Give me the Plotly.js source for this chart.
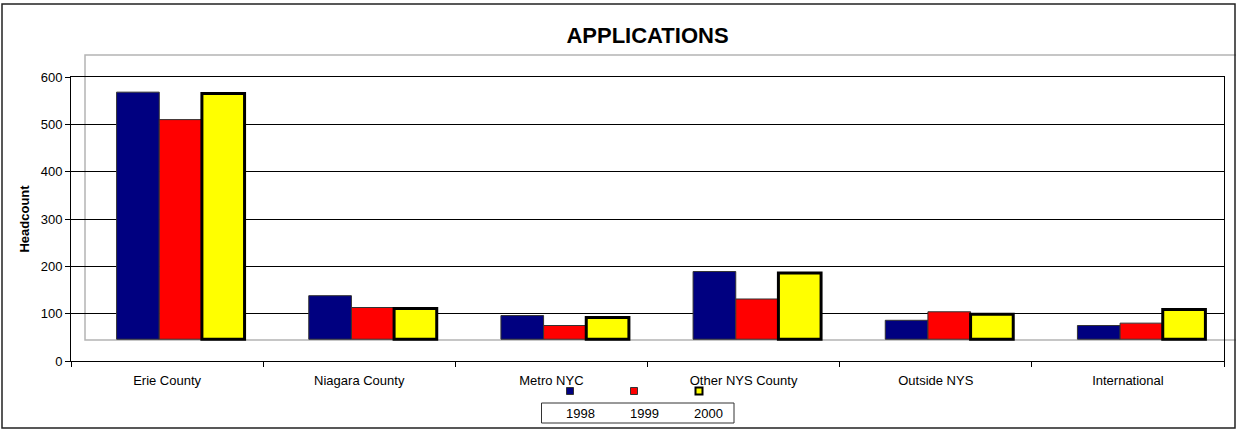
<!DOCTYPE html>
<html>
<head>
<meta charset="utf-8">
<script src="https://cdn.plot.ly/plotly-3.0.1.min.js"></script>
<style>html,body{margin:0;padding:0;background:#fff;}#chart{width:1236px;height:430px;}</style>
</head>
<body>
<div id="chart"></div>
<script>
// ---- data ----
const categories = ["Erie County", "Niagara County", "Metro NYC", "Other NYS County", "Outside NYS", "International"];
const seriesNames = ["1998", "1999", "2000"];
const values1998 = [568, 138, 96, 189, 86, 75];
const values1999 = [510, 113, 75, 131, 104, 80];
const values2000 = [565, 111, 92, 186, 99, 109];
const yTickVals = [0, 100, 200, 300, 400, 500, 600];

// ---- styles ----
const FONT = "Arial, 'Liberation Sans', sans-serif";
const colors = ["#000080", "#FF0000", "#FFFF00"];
const borderColors = ["#333333", "#333333", "#000000"];
const borderWidths = [1, 1, 3];
const floorBase = 46;          // the drawn "floor" of the columns
const W = 1236, H = 430;
const L = 71, R = 12, T = 77, B = 69;
const plotW = W - L - R, plotH = H - T - B;
const shiftPx = 13.5;          // depth shift of the columns
const catW = plotW / categories.length;
const dShift = shiftPx / catW;

function px(x) { return (x - L) / plotW; }
function py(y) { return (H - B - y) / plotH; }

const allVals = [values1998, values1999, values2000];
const traces = allVals.map((v, i) => ({
  type: "bar",
  name: seriesNames[i],
  x: categories,
  y: v.map(val => val - floorBase),
  base: floorBase,
  xaxis: "x2",
  marker: { color: colors[i], line: { color: borderColors[i], width: borderWidths[i] } },
  hoverinfo: "skip",
  showlegend: false
}));
// invisible carrier so the visible category axis knows its categories
traces.unshift({
  type: "scatter", mode: "markers", x: categories, y: categories.map(() => 0),
  marker: { opacity: 0 }, hoverinfo: "skip", showlegend: false, xaxis: "x", yaxis: "y"
});

const shapes = [
  // back wall (depth frame)
  { type: "rect", xref: "paper", yref: "paper", x0: px(85), x1: px(1240), y0: py(340), y1: py(55),
    line: { color: "#b4b4b4", width: 1.5 }, layer: "below" },
  // outer chart border
  { type: "rect", xref: "paper", yref: "paper", x0: px(2), x1: px(1235), y0: py(428), y1: py(4),
    line: { color: "#222222", width: 1.5 } },
  // legend box
  { type: "rect", xref: "paper", yref: "paper", x0: px(541.5), x1: px(734), y0: py(423), y1: py(403),
    line: { color: "#333333", width: 1 }, fillcolor: "#ffffff" }
];
const annotations = [];
const legMarkX = [570, 634, 699];
const legTextX = [580, 644, 708];
seriesNames.forEach((n, i) => {
  const s = 3.5;
  shapes.push({ type: "rect", xref: "paper", yref: "paper",
    x0: px(legMarkX[i] - s), x1: px(legMarkX[i] + s), y0: py(391 + s), y1: py(391 - s),
    fillcolor: colors[i], line: { color: borderColors[i], width: i === 2 ? 2 : 1 } });
  annotations.push({ xref: "paper", yref: "paper", x: px(legTextX[i]), y: py(413),
    text: n, showarrow: false, xanchor: "center", yanchor: "middle",
    font: { family: FONT, size: 13, color: "#000" } });
});

const layout = {
  width: W, height: H,
  margin: { l: L, r: R, t: T, b: B, pad: 0 },
  paper_bgcolor: "#fff", plot_bgcolor: "rgba(0,0,0,0)",
  font: { family: FONT, size: 13, color: "#000" },
  title: { text: "<b>APPLICATIONS</b>", font: { family: FONT, size: 22, color: "#000" },
    x: 0.5, xref: "paper", xanchor: "center", y: 1 - 35 / H, yanchor: "middle" },
  showlegend: false,
  barmode: "group", bargap: 0.334, bargroupgap: 0,
  xaxis: {
    type: "category", categoryorder: "array", categoryarray: categories,
    range: [-0.5, categories.length - 0.5],
    showline: true, linecolor: "#000", linewidth: 1, mirror: true,
    ticks: "outside", ticklen: 5, tickcolor: "#000", tickson: "boundaries",
    ticklabelstandoff: 7,
    showgrid: false, zeroline: false,
    tickfont: { family: FONT, size: 13, color: "#000" }
  },
  xaxis2: {
    type: "category", categoryorder: "array", categoryarray: categories, overlaying: "x",
    range: [-0.5 - dShift, categories.length - 0.5 - dShift],
    visible: false, showgrid: false, zeroline: false
  },
  yaxis: {
    range: [0, 600], tickvals: yTickVals, ticktext: yTickVals.map(String),
    showline: true, linecolor: "#000", linewidth: 1, mirror: true,
    ticks: "outside", ticklen: 5, tickcolor: "#000",
    showgrid: true, gridcolor: "#000", gridwidth: 1, zeroline: false,
    tickfont: { family: FONT, size: 13, color: "#000" },
    title: { text: "<b>Headcount</b>", font: { family: FONT, size: 13, color: "#000" }, standoff: 8 }
  },
  shapes: shapes,
  annotations: annotations
};

Plotly.newPlot("chart", traces, layout, { displayModeBar: false, staticPlot: true });
</script>
</body>
</html>
